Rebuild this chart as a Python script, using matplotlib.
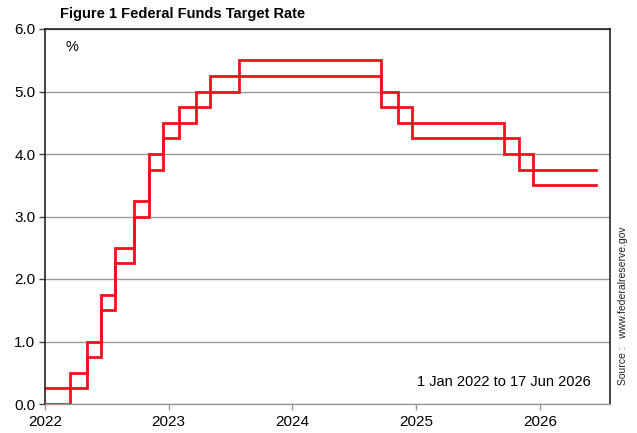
import matplotlib
matplotlib.use("Agg")
import matplotlib.pyplot as plt
import matplotlib.dates as mdates
import numpy as np
from datetime import datetime

plt.rcParams['font.family'] = ['Liberation Sans', 'DejaVu Sans']

change_dates = ["2022-01-01", "2022-03-17", "2022-05-05", "2022-06-16", "2022-07-28",
                "2022-09-22", "2022-11-03", "2022-12-15", "2023-02-02", "2023-03-23",
                "2023-05-04", "2023-07-27", "2024-09-19", "2024-11-08", "2024-12-19",
                "2025-09-18", "2025-10-30", "2025-12-11"]
end_date = "2026-06-17"
lower = [0.00, 0.25, 0.75, 1.50, 2.25, 3.00, 3.75, 4.25, 4.50, 4.75, 5.00, 5.25,
         4.75, 4.50, 4.25, 4.00, 3.75, 3.50]
upper = [0.25, 0.50, 1.00, 1.75, 2.50, 3.25, 4.00, 4.50, 4.75, 5.00, 5.25, 5.50,
         5.00, 4.75, 4.50, 4.25, 4.00, 3.75]
years = [2022, 2023, 2024, 2025, 2026]
yticks = [0.0, 1.0, 2.0, 3.0, 4.0, 5.0, 6.0]

dts = [datetime.strptime(d, "%Y-%m-%d") for d in change_dates] + [datetime.strptime(end_date, "%Y-%m-%d")]
x = mdates.date2num(dts)

fig = plt.figure(figsize=(6.37, 4.33), dpi=100)
ax = fig.add_axes([45/637, 1-404/433, (610-45)/637, (404-29)/433])

red = '#F0101E'
for series in (lower, upper):
    ax.step(x, list(series) + [series[-1]], where='post', color=red, lw=2.0, solid_joinstyle='miter')

ax.set_ylim(0, 6)
ax.set_yticks(yticks)
ax.set_yticklabels([f"{v:.1f}" for v in yticks], fontsize=11)
xt = mdates.date2num([datetime(y, 1, 1) for y in years])
ax.set_xticks(xt)
ax.set_xticklabels([str(y) for y in years], fontsize=11)
ax.set_xlim(xt[0], mdates.date2num(datetime(2026, 7, 27)))

ax.grid(axis='y', color='#9a9a9a', lw=1.0)
ax.set_axisbelow(True)
for s in ['left', 'right', 'top']:
    ax.spines[s].set_color('#222222')
    ax.spines[s].set_linewidth(1.2)
ax.spines['bottom'].set_color('#9a9a9a')
ax.spines['bottom'].set_linewidth(1.0)
ax.tick_params(axis='y', length=4, width=1, color='#444444', pad=3)
ax.tick_params(axis='x', length=4, width=1, color='#9a9a9a', pad=4)

fig.text(60/637, 1-14/433, "Figure 1 Federal Funds Target Rate", fontsize=10.5,
         fontweight='bold', ha='left', va='center')
fig.text(65/637, 1-47/433, "%", fontsize=10.5, ha='left', va='center')
fig.text(591/637, 1-382/433, "1 Jan 2022 to 17 Jun 2026", fontsize=10.5, ha='right', va='center')
fig.text(623/637, 1-306/433, "Source :   www.federalreserve.gov", fontsize=7.5, rotation=90,
         ha='center', va='center', color='#222222')

fig.savefig("out.png", dpi=100)
